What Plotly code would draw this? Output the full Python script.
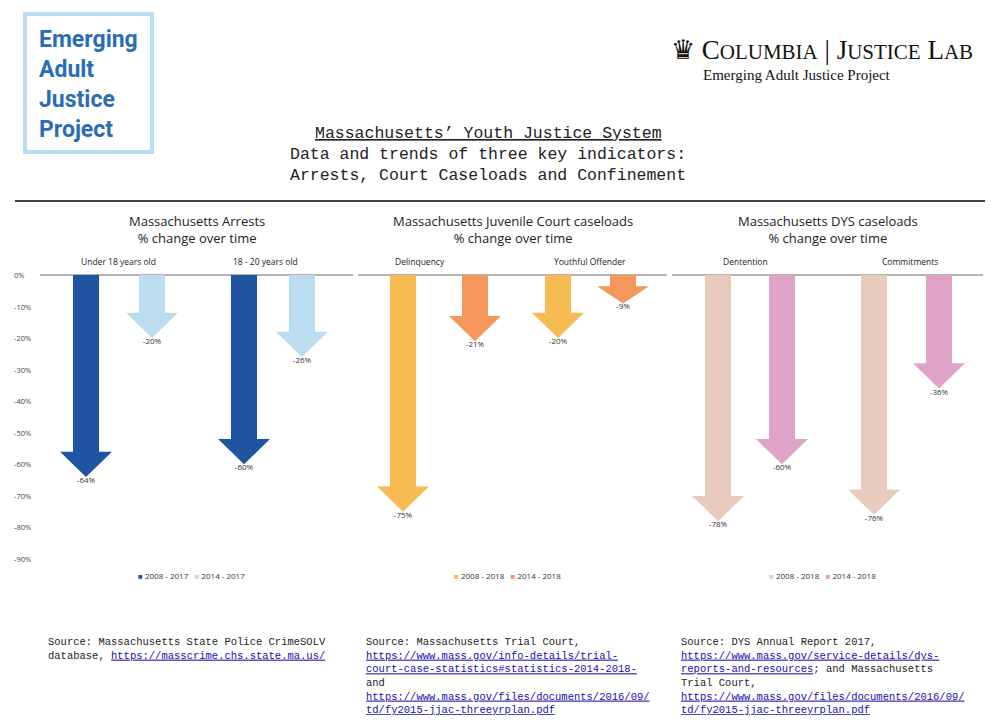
import plotly.graph_objects as go

# ---- data ----
panel_titles = ["Massachusetts Arrests<br>% change over time",
                "Massachusetts Juvenile Court caseloads<br>% change over time",
                "Massachusetts DYS caseloads<br>% change over time"]
group_labels = [["Under 18 years old", "18 - 20 years old"],
                ["Delinquency", "Youthful Offender"],
                ["Dentention", "Commitments"]]
series_names = [["2008 - 2017", "2014 - 2017"],
                ["2008 - 2018", "2014 - 2018"],
                ["2008 - 2018", "2014 - 2018"]]
arrests_values = [[-64, -20], [-60, -26]]
court_values = [[-75, -21], [-20, -9]]
dys_values = [[-78, -60], [-76, -36]]
all_values = [arrests_values, court_values, dys_values]
tick_values = [0, -10, -20, -30, -40, -50, -60, -70, -80, -90]
tick_labels = ["0%", "-10%", "-20%", "-30%", "-40%", "-50%", "-60%", "-70%", "-80%", "-90%"]

# ---- style ----
colors = [["#1f55a0", "#bcdcf0"], ["#f6bc52", "#f5975a"], ["#e9cbbe", "#e0a3c8"]]
centers = [[[86, 152], [244, 302]], [[403, 475], [558, 623]], [[718, 782], [874, 939]]]
panel_x = [(40, 353), (358, 667), (672, 983)]
group_label_x = [[118, 265], [420, 590], [745, 910]]
OFF = 8
W, H = 984, 707
Y0PX, PXPER = 275 - OFF, 3.156
yr = [-(H - Y0PX) / PXPER, Y0PX / PXPER]
SHAFT, HEAD = 26, 52

def X(px):
    return px - OFF

def PX(px):
    return (px - OFF) / W

def PY(py):
    return 1 - (py - OFF) / H

def py_of_v(v):
    return (v - yr[0]) / (yr[1] - yr[0])

fig = go.Figure()

def ann(x, y, text, size, color="#222", family="Open Sans", xa="center", ya="middle", align="center"):
    fig.add_annotation(x=x, y=y, xref="paper", yref="paper", text=text, showarrow=False,
                       xanchor=xa, yanchor=ya, align=align,
                       font=dict(size=size, color=color, family=family))

for p in range(3):
    for g in range(2):
        for s in range(2):
            v = all_values[p][g][s]
            c = X(centers[p][g][s])
            hl = min(8, 0.6 * abs(v))
            xs = [c - SHAFT/2, c + SHAFT/2, c + SHAFT/2, c + HEAD/2, c, c - HEAD/2, c - SHAFT/2, c - SHAFT/2]
            ys = [0, 0, v + hl, v + hl, v, v + hl, v + hl, 0]
            fig.add_trace(go.Scatter(x=xs, y=ys, fill="toself", fillcolor=colors[p][s],
                                     line=dict(width=0), mode="lines", hoverinfo="skip",
                                     showlegend=False))
            fig.add_trace(go.Scatter(x=[c], y=[v], mode="text", text=[f"{v}%"],
                                     textposition="bottom center",
                                     textfont=dict(size=8, color="#333", family="Open Sans"),
                                     showlegend=False, hoverinfo="skip"))
    fig.add_shape(type="line", x0=X(panel_x[p][0]), x1=X(panel_x[p][1]), y0=0, y1=0,
                  line=dict(color="#9a9a9a", width=1.5), layer="below")
    mid = (panel_x[p][0] + panel_x[p][1]) / 2
    ann(PX(mid), PY(229), panel_titles[p], 13)
    for g in range(2):
        ann(PX(group_label_x[p][g]), PY(262), group_labels[p][g], 8.5)
    leg = (f"<span style='color:{colors[p][0]}'>■</span> {series_names[p][0]}   "
           f"<span style='color:{colors[p][1]}'>■</span> {series_names[p][1]}")
    ann(PX(mid - 5), PY(575), leg, 8, "#333")

for tv, tl in zip(tick_values, tick_labels):
    ann(PX(12), py_of_v(tv), tl, 7.5, "#444", xa="left")

mono = "Liberation Mono"
ann(PX(488), PY(133), "<span style='text-decoration:underline'>Massachusetts’ Youth Justice System</span>",
    16.5, family=mono)
ann(PX(488), PY(165), "Data and trends of three key indicators:<br>Arrests, Court Caseloads and Confinement",
    16.5, family=mono)
fig.add_shape(type="line", xref="paper", yref="paper", x0=PX(15), x1=PX(985), y0=PY(201), y1=PY(201),
              line=dict(color="#444", width=2))

# logos
fig.add_shape(type="rect", xref="paper", yref="paper", x0=PX(25), x1=PX(152), y0=PY(152), y1=PY(14),
              line=dict(color="#bcdcf0", width=4))
ann(PX(37), PY(84), "<b>Emerging<br>Adult<br>Justice<br>Project</b>", 23, "#2a6db5", "Roboto",
    xa="left", align="left")
ann(PX(975), PY(50), "♛ C<span style='font-size:21px'>OLUMBIA</span> | J<span style='font-size:21px'>USTICE</span> L<span style='font-size:21px'>AB</span>",
    27, "#111", "Liberation Serif", xa="right")
ann(PX(797), PY(75), "Emerging Adult Justice Project", 15, "#111", "Liberation Serif")

link = "<span style='color:#1a0dab;text-decoration:underline'>{}</span>"
sources = [
    "Source: Massachusetts State Police CrimeSOLV<br>database, " + link.format("https://masscrime.chs.state.ma.us/"),
    "Source: Massachusetts Trial Court,<br>" + link.format("https://www.mass.gov/info-details/trial-") + "<br>"
    + link.format("court-case-statistics#statistics-2014-2018-") + "<br>and<br>"
    + link.format("https://www.mass.gov/files/documents/2016/09/") + "<br>" + link.format("td/fy2015-jjac-threeyrplan.pdf"),
    "Source: DYS Annual Report 2017,<br>" + link.format("https://www.mass.gov/service-details/dys-") + "<br>"
    + link.format("reports-and-resources") + "; and Massachusetts<br>Trial Court,<br>"
    + link.format("https://www.mass.gov/files/documents/2016/09/") + "<br>" + link.format("td/fy2015-jjac-threeyrplan.pdf"),
]
for xs_, t in zip([46, 364, 679], sources):
    ann(PX(xs_), PY(634), t, 10.5, family=mono, xa="left", ya="top", align="left")

fig.update_layout(width=W, height=H, margin=dict(l=0, r=0, t=0, b=0),
                  plot_bgcolor="white", paper_bgcolor="white",
                  xaxis=dict(range=[0, W], visible=False, fixedrange=True),
                  yaxis=dict(range=yr, visible=False, fixedrange=True))
fig.write_html("out.html")
